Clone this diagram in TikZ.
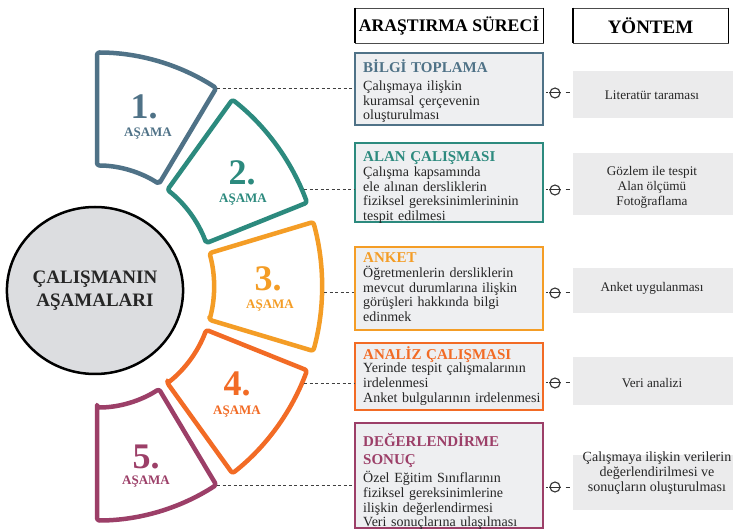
\documentclass[tikz,border=0pt]{standalone}
\usepackage{fontspec}
\setmainfont{Liberation Serif}
\usetikzlibrary{calc,shapes.geometric}
\definecolor{cA}{HTML}{4F7287}
\definecolor{cB}{HTML}{2C8A7E}
\definecolor{cC}{HTML}{F49D26}
\definecolor{cD}{HTML}{F26B25}
\definecolor{cE}{HTML}{9C3F68}
\definecolor{boxfill}{HTML}{EEEFF1}
\definecolor{rfill}{HTML}{EBEBEC}
\definecolor{cfill}{HTML}{DCDDE0}
\definecolor{txt}{HTML}{262626}
\newcommand\ttlfont{\fontsize{15}{14.8}\selectfont\bfseries}
\begin{document}
\begin{tikzpicture}[x=1pt,y=1pt,
  seg/.style={line width=4.5pt, rounded corners=2.5pt, line join=round, fill=white},
  numtxt/.style={font=\fontsize{36}{36}\selectfont\bfseries, inner sep=0, anchor=base},
  asama/.style={font=\fontsize{13}{14}\selectfont\bfseries, inner sep=0, anchor=base},
  midbox/.style={draw, line width=1.8pt, fill=boxfill, inner sep=0, minimum width=188pt},
  mtext/.style={text width=182pt, align=left, inner sep=0, font=\fontsize{14}{14.8}\selectfont, text=txt},
  hdr/.style={draw=black!70, line width=0.8pt, minimum height=35pt, inner sep=0, text=black},
  rbox/.style={fill=rfill, inner sep=0, minimum width=160pt},
  rtext/.style={align=center, inner sep=0, font=\fontsize{13.2}{15}\selectfont, text=txt},
  dl/.style={draw=black!75, line width=0.8pt, dash pattern=on 3pt off 2.5pt},
  tick/.style={draw=black!80, line width=1pt},
  ring/.style={circle, draw=black!80, line width=1.1pt, minimum size=10pt, inner sep=0}
]
\useasboundingbox (0,0) rectangle (733,530);
\coordinate (C) at (97,243.5);

% ring segments
\foreach \a/\b/\col in {58/90/cA, 21/53/cB, -16/16/cC, -53/-21/cD, -90/-58/cE} {
  \draw[seg, draw=\col] ($(C)+(\a:117pt and 121pt)$) -- ($(C)+(\a:225pt and 234pt)$)
     arc[start angle=\a, end angle=\b, x radius=225pt, y radius=234pt]
     -- ($(C)+(\b:117pt and 121pt)$)
     arc[start angle=\b, end angle=\a, x radius=117pt, y radius=121pt] -- cycle;
}

% central circle
\node[ellipse, draw=black, line width=2.5pt, fill=cfill, minimum width=162pt, minimum height=167pt, inner sep=0,
      align=center, font=\fontsize{19}{23}\selectfont\bfseries, text=txt] (core) at (95,239.5) {ÇALIŞMANIN\\AŞAMALARI};

% segment labels
\node[numtxt, text=cA] (n1) at (144,411) {1.};
\node[asama, text=cA] (a1) at (148,393.5) {AŞAMA};
\node[numtxt, text=cB] (n2) at (242,345.5) {2.};
\node[asama, text=cB] (a2) at (243,327.5) {AŞAMA};
\node[numtxt, text=cC] (n3) at (268,239) {3.};
\node[asama, text=cC] (a3) at (270,221.5) {AŞAMA};
\node[numtxt, text=cD] (n4) at (237,134) {4.};
\node[asama, text=cD] (a4) at (237,115.5) {AŞAMA};
\node[numtxt, text=cE] (n5) at (146,62) {5.};
\node[asama, text=cE] (a5) at (146,45.5) {AŞAMA};

% headers
\node[hdr, minimum width=188pt, font=\fontsize{17.7}{20}\selectfont\bfseries] (h1) at (449,504.5) {ARAŞTIRMA SÜRECİ};
\node[hdr, minimum width=155pt, font=\fontsize{19}{20}\selectfont\bfseries] (h2) at (650.5,504.5) {YÖNTEM};
\foreach \h in {h1,h2} {
  \draw[line width=1.8pt] (\h.north west) -- (\h.south west);
  \draw[line width=1.8pt] (\h.north east) -- (\h.south east);
}

% middle boxes
\node[midbox, draw=cA, minimum height=72pt] (b1) at (449,441) {};
\node[midbox, draw=cB, minimum height=79pt] (b2) at (449,347.5) {};
\node[midbox, draw=cC, minimum height=83pt] (b3) at (449,241.5) {};
\node[midbox, draw=cD, minimum height=67pt] (b4) at (449,153.5) {};
\node[midbox, draw=cE, minimum height=105pt] (b5) at (449,54.5) {};

\node[mtext, anchor=base west] (t1) at (363,457.5) {{\ttlfont\color{cA}BİLGİ TOPLAMA}\\[3pt]
  Çalışmaya ilişkin\\ kuramsal çerçevenin\\ oluşturulması};
\node[mtext, anchor=base west] (t2) at (363,368.5) {{\ttlfont\color{cB}ALAN ÇALIŞMASI}\\
  Çalışma kapsamında\\ ele alınan dersliklerin\\ fiziksel gereksinimlerininin\\ tespit edilmesi};
\node[mtext, anchor=base west] (t3) at (363,267.5) {{\ttlfont\color{cC}ANKET}\\
  Öğretmenlerin dersliklerin\\ mevcut durumlarına ilişkin\\ görüşleri hakkında bilgi\\ edinmek};
\node[mtext, anchor=base west] (t4) at (363,170.5) {{\ttlfont\color{cD}ANALİZ ÇALIŞMASI}\\[-1.8pt]
  Yerinde tespit çalışmalarının\\ irdelenmesi\\ Anket bulgularının irdelenmesi};
\node[mtext, anchor=base west] (t5) at (363,83.5) {{\ttlfont\color{cE}DEĞERLENDİRME}\\[3.2pt]
  {\ttlfont\color{cE}SONUÇ}\\[3.2pt]
  Özel Eğitim Sınıflarının\\ fiziksel gereksinimlerine\\ ilişkin değerlendirmesi\\ Veri sonuçlarına ulaşılması};

% right boxes
\node[rbox, minimum height=47pt] (r1) at (653,435.5) {};
\node[rbox, minimum height=62pt] (r2) at (653,346) {};
\node[rbox, minimum height=45pt] (r3) at (653,239.5) {};
\node[rbox, minimum height=48pt] (r4) at (653,149) {};
\node[rbox, minimum height=55pt] (r5) at (653,47.5) {};

\node[rtext] (rt1) at (652,435) {Literatür taraması};
\node[rtext] (rt2) at (652,343) {Gözlem ile tespit\\ Alan ölçümü\\ Fotoğraflama};
\node[rtext] (rt3) at (652,242) {Anket uygulanması};
\node[rtext] (rt4) at (652,147) {Veri analizi};
\node[rtext, font=\fontsize{14}{15}\selectfont] (rt5) at (657,57) {Çalışmaya ilişkin verilerin\\ değerlendirilmesi ve\\ sonuçların oluşturulması};

% dashed connectors from segments
\coordinate (d1) at (217,442);
\coordinate (d2) at (304,341);
\coordinate (d3) at (324,238);
\coordinate (d4) at (304,147);
\coordinate (d5) at (217,45);
\foreach \i in {1,...,5} {
  \draw[dl] (d\i) -- (d\i -| b\i.west);
}

% circle connectors
\node[ring] (k1) at (555,437) {};
\node[ring] (k2) at (555,340) {};
\node[ring] (k3) at (555,237) {};
\node[ring] (k4) at (555,147) {};
\node[ring] (k5) at (555,43) {};
\foreach \i in {1,...,5} {
  \draw[tick] (k\i.west) -- (k\i.east);
  \draw[tick, shorten <=2pt, shorten >=1pt] (b\i.east |- k\i) -- (k\i.west);
  \draw[tick, shorten <=5pt, shorten >=3pt] (k\i.east) -- (r\i.west |- k\i);
}
\end{tikzpicture}
\end{document}
